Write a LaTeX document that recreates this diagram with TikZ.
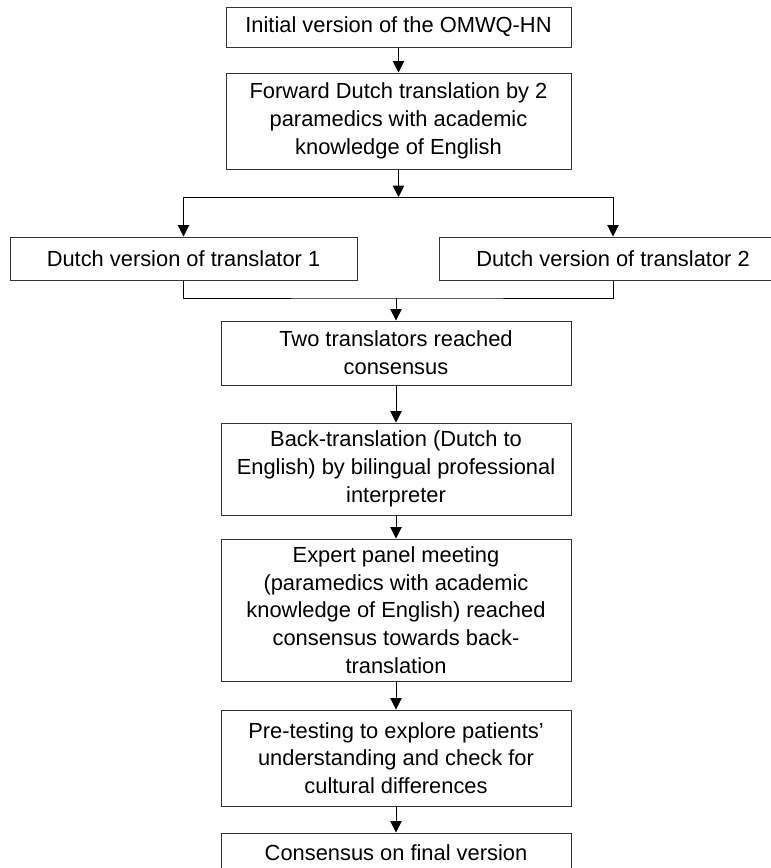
\documentclass[tikz,border=0pt]{standalone}
\usepackage{fontspec}
\setmainfont{Liberation Sans}
\usetikzlibrary{arrows.meta}

\begin{document}
\begin{tikzpicture}[x=0.75pt,y=-0.75pt,
    every node/.style={font=\fontsize{16.4}{20.8}\selectfont, align=center},
    stepbox/.style={draw=black!80, line width=0.75pt, inner sep=0pt},
    arr/.style={line width=0.75pt, -{Triangle[width=8.5pt,length=8.5pt]}}]
  \useasboundingbox (0,0) rectangle (771,868);
  % upper part
  \node[stepbox, minimum width=258.75pt, minimum height=30pt] (init) at (398.5,27)
    {Initial version of the OMWQ-HN};
  \node[stepbox, minimum width=258.75pt, minimum height=72pt] (fwd) at (398.5,121)
    {Forward Dutch translation by 2\\paramedics with academic\\knowledge of English};
  \node[stepbox, minimum width=260.25pt, minimum height=32.25pt] (dutchA) at (183.5,258.5)
    {Dutch version of translator 1};
  \node[stepbox, minimum width=260.25pt, minimum height=32.25pt] (dutchB) at (613,258.5)
    {Dutch version of translator 2};
  % lower part
  \node[stepbox, minimum width=262.5pt, minimum height=48pt] (consA) at (396,353)
    {Two translators reached\\consensus};
  \node[stepbox, minimum width=262.5pt, minimum height=69pt] (back) at (396,469)
    {Back-translation (Dutch to\\English) by bilingual professional\\interpreter};
  \node[stepbox, minimum width=262.5pt, minimum height=106.5pt] (panel) at (396,610)
    {Expert panel meeting\\(paramedics with academic\\knowledge of English) reached\\consensus towards back-\\translation};
  \node[stepbox, minimum width=262.5pt, minimum height=72pt] (pretest) at (396,758)
    {Pre-testing to explore patients’\\understanding and check for\\cultural differences};
  \node[stepbox, minimum width=262.5pt, minimum height=30pt] (final) at (396,853)
    {Consensus on final version};
  \coordinate (split) at (398.5,197);
  \coordinate (merge) at (396,298);
  % connectors
  \draw[arr] (init) -- (fwd);
  \draw[arr] (fwd) -- (split);
  \draw[arr] (split) -| (dutchA);
  \draw[arr] (split) -| (dutchB);
  \draw[line width=0.75pt] (dutchA) |- (merge) -| (dutchB);
  \draw[arr] (merge) -- (consA);
  \draw[arr] (consA) -- (back);
  \draw[arr] (back) -- (panel);
  \draw[arr] (panel) -- (pretest);
  \draw[arr] (pretest) -- (final);
\end{tikzpicture}
\end{document}
